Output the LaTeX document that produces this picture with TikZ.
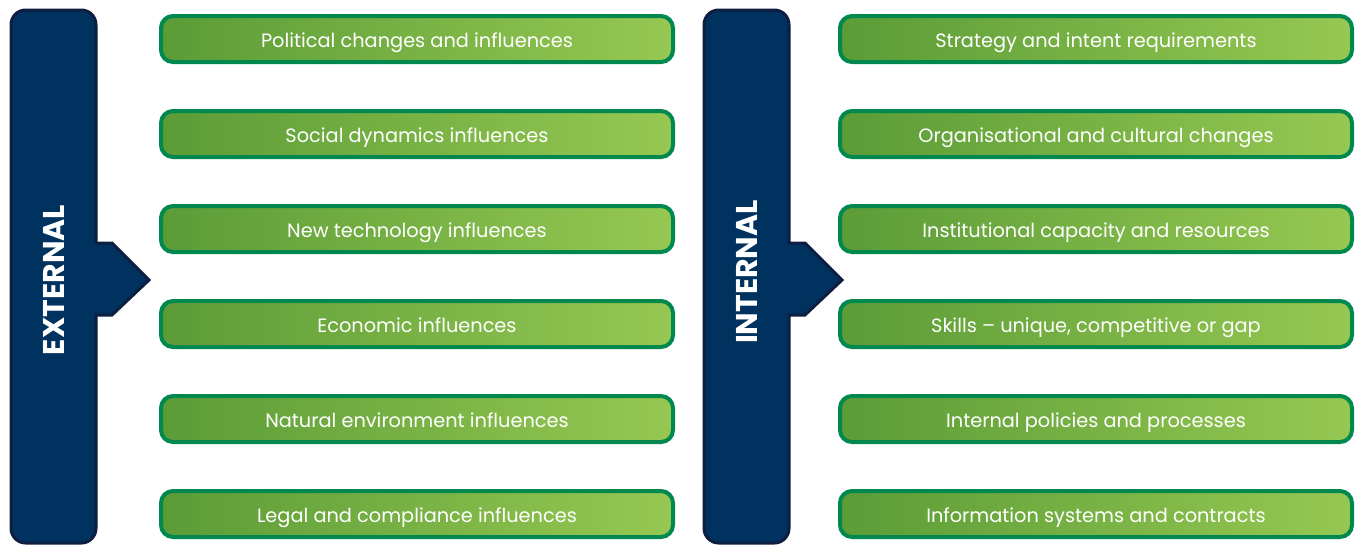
\documentclass[tikz,border=0pt]{standalone}
\usepackage{fontspec}
\setmainfont{Poppins}
\usetikzlibrary{matrix}

\definecolor{navyfill}{HTML}{00325F}
\definecolor{navyline}{HTML}{0E1E40}
\definecolor{boxline}{HTML}{00884E}
\definecolor{boxleft}{HTML}{5B9C37}
\definecolor{boxright}{HTML}{96C852}

\tikzset{
	influence/.style={draw=boxline, line width=3pt, rounded corners=9pt,
		left color=boxleft, right color=boxright,
		minimum width=384pt, minimum height=34.5pt, inner sep=0pt,
		text height=13.5pt, text depth=1pt,
		text=white, font=\fontsize{14.5}{14.5}\selectfont},
	sidebar/.style={draw=navyline, fill=navyfill, line width=2.25pt},
	sidelabel/.style={rotate=90, text=white, font=\bfseries\fontsize{22.5}{22.5}\selectfont},
}

\begin{document}
\begin{tikzpicture}[x=0.75pt, y=-0.75pt]
	\useasboundingbox (0,0) rectangle (1357,544);
	% the two blue bars with their pointers
	\foreach \bx in {0, 693} {
		\draw[sidebar, rounded corners=11pt] ({\bx+11},543) -- ({\bx+11},10) -- ({\bx+96},10)
			[sharp corners] -- ({\bx+96},243) -- ({\bx+112},243) -- ({\bx+149},280)
			-- ({\bx+112},315) -- ({\bx+96},315) [rounded corners=11pt] -- ({\bx+96},543) -- cycle;
	}
	\node[sidelabel] (external) at (54,280) {EXTERNAL};
	\node[sidelabel] (internal) at (747,272) {INTERNAL};
	% influences, external on the left, internal on the right
	\matrix (influences) [anchor=north west, inner sep=0pt, outer sep=0pt,
		ampersand replacement=\&,
		row sep=33.75pt,
		column sep=122.25pt,
		nodes={influence}] at (159,14)
	{
		\node (political) {Political changes and influences}; \& \node (strategy) {Strategy and intent requirements}; \\
		\node (social) {Social dynamics influences}; \& \node (culture) {Organisational and cultural changes}; \\
		\node (technology) {New technology influences}; \& \node (capacity) {Institutional capacity and resources}; \\
		\node (economic) {Economic influences}; \& \node (skills) {Skills – unique, competitive or gap}; \\
		\node (environment) {Natural environment influences}; \& \node (policies) {Internal policies and processes}; \\
		\node (legal) {Legal and compliance influences}; \& \node (systems) {Information systems and contracts}; \\
	};
\end{tikzpicture}
\end{document}
